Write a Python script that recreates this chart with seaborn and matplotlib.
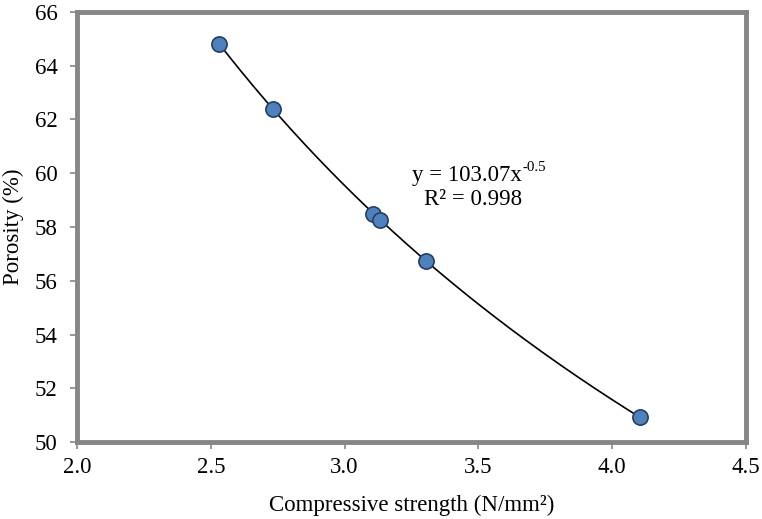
import numpy as np
import pandas as pd
import seaborn as sns
import matplotlib
matplotlib.use("Agg")
import matplotlib.pyplot as plt

strength = [2.532, 2.732, 3.107, 3.133, 3.304, 4.104]
porosity = [64.80, 62.40, 58.50, 58.28, 56.75, 50.92]
x_ticks = [2.0, 2.5, 3.0, 3.5, 4.0, 4.5]
y_ticks = [50, 52, 54, 56, 58, 60, 62, 64, 66]
eq_base = "y = 103.07x"
eq_sup = "-0.5"
r2_text = "R² = 0.998"

sns.set_theme(style="white")
plt.rcParams['font.family'] = ['Liberation Serif', 'DejaVu Serif']

df = pd.DataFrame({"strength": strength, "porosity": porosity})

fig = plt.figure(figsize=(7.62, 5.19), dpi=100)
ax = fig.add_axes([0.101, 0.148, 0.878, 0.829])

# power trendline y = a * x^b
b, loga = np.polyfit(np.log(df.strength), np.log(df.porosity), 1)
xs = np.linspace(min(strength), max(strength), 200)
fit = pd.DataFrame({"x": xs, "y": np.exp(loga) * xs ** b})
sns.lineplot(data=fit, x="x", y="y", ax=ax, color="black", linewidth=1.2, zorder=2)
sns.scatterplot(data=df, x="strength", y="porosity", ax=ax, s=120,
                color="#4f81bd", edgecolor="#243f66", linewidth=1.2, zorder=3)

ax.set_xlim(2.0, 4.5)
ax.set_ylim(50, 66)
ax.set_xticks(x_ticks)
ax.set_xticklabels([f"{v:.1f}" for v in x_ticks])
ax.set_yticks(y_ticks)
ax.set_yticklabels([str(v) for v in y_ticks])
ax.tick_params(axis="both", direction="out", length=5, width=1.2, color="#868686",
               labelsize=16.5, labelcolor="black", pad=6)
ax.tick_params(axis="y", pad=9)
ax.tick_params(bottom=True, left=True)
for s in ax.spines.values():
    s.set_color("#868686")
    s.set_linewidth(3.5)
    s.set_visible(True)

ax.set_xlabel("Compressive strength (N/mm²)", fontsize=16.5, color="black", labelpad=12)
ax.set_ylabel("Porosity (%)", fontsize=16.5, color="black", labelpad=8)

fs = 16.5
t_base = ax.text(3.457, 59.90, eq_base, fontsize=fs, ha="center", va="center", color="black")
fig.canvas.draw()
bb = t_base.get_window_extent()
fig.text(bb.x1 / fig.bbox.width + 0.001, (bb.y1 - 9) / fig.bbox.height, eq_sup,
         fontsize=fs * 0.65, ha="left", va="bottom", color="black")
ax.text(3.48, 59.03, r2_text, fontsize=fs, ha="center", va="center", color="black")

fig.savefig("out.png", dpi=100)
